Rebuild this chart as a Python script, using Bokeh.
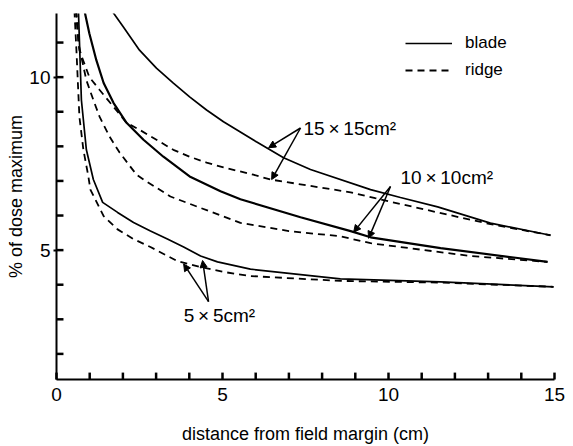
from bokeh.plotting import figure
from bokeh.models import (Range1d, FixedTicker, Legend, LegendItem,
                          Arrow, NormalHead, Label)
from bokeh.embed import file_html
from bokeh.resources import INLINE

# ---- data (distance from field margin in cm, % of dose maximum) ----
b15_x = [1.66, 2.02, 2.50, 3.01, 3.52, 4.01, 4.52, 5.03, 6.02, 6.84, 7.65, 9.46, 10.36, 11.48, 13.07, 14.88]
b15_y = [11.93, 11.44, 10.78, 10.26, 9.83, 9.43, 9.05, 8.71, 8.13, 7.67, 7.33, 6.75, 6.52, 6.25, 5.78, 5.43]

r15_x = [0.58, 0.69, 0.99, 1.30, 1.72, 2.11, 2.50, 3.01, 3.52, 4.01, 4.52, 5.03, 5.93, 6.45, 8.86, 9.60, 11.48, 13.07, 14.88]
r15_y = [11.93, 10.78, 10.00, 9.63, 9.14, 8.68, 8.48, 8.19, 7.90, 7.70, 7.53, 7.39, 7.18, 7.04, 6.67, 6.50, 6.09, 5.75, 5.43]

b10_x = [0.84, 0.99, 1.20, 1.42, 1.72, 2.11, 2.62, 3.22, 4.01, 4.94, 5.54, 7.35, 8.86, 9.46, 11.57, 14.79]
b10_y = [11.93, 11.26, 10.49, 9.83, 9.25, 8.68, 8.19, 7.70, 7.13, 6.70, 6.47, 5.95, 5.55, 5.37, 5.06, 4.66]

r10_x = [0.60, 0.66, 0.90, 1.11, 1.30, 1.60, 1.90, 2.41, 2.62, 3.43, 4.34, 5.54, 7.00, 8.55, 9.46, 12.47, 14.79]
r10_y = [11.93, 10.98, 9.91, 9.34, 8.85, 8.28, 7.82, 7.18, 7.04, 6.55, 6.22, 5.79, 5.55, 5.40, 5.20, 4.83, 4.66]

b5_x = [0.66, 0.75, 0.90, 1.11, 1.39, 1.84, 2.32, 2.83, 3.34, 3.83, 4.34, 4.85, 5.84, 8.55, 11.57, 14.97]
b5_y = [11.93, 9.34, 7.90, 7.04, 6.38, 6.09, 5.80, 5.55, 5.32, 5.09, 4.83, 4.66, 4.45, 4.17, 4.08, 3.94]

r5_x = [0.54, 0.60, 0.69, 0.81, 0.96, 1.02, 1.42, 1.84, 2.32, 2.83, 3.64, 4.34, 5.03, 5.84, 8.55, 11.57, 14.97]
r5_y = [11.93, 10.78, 8.85, 7.90, 7.13, 6.75, 5.98, 5.60, 5.32, 5.09, 4.68, 4.51, 4.37, 4.25, 4.11, 4.06, 3.94]

x_ticks = [0, 5, 10, 15]
x_minor_ticks = [1, 2, 3, 4, 6, 7, 8, 9, 11, 12, 13, 14]
y_ticks = [5, 10]
y_minor_ticks = [2, 3, 4, 6, 7, 8, 9, 11]

X_MIN, X_MAX = 0, 15.0
Y_MIN, Y_MAX = 1.26, 11.84
TICK_LEN_X = 0.2    # data units along y (~7 px)
TICK_LEN_Y = 0.21   # data units along x (~7 px)

# annotation positions (data units)
labels = ["15\u2009\u00d7\u200915cm\u00b2", "10\u2009\u00d7\u200910cm\u00b2", "5\u2009\u00d7\u20095cm\u00b2"]
label_x = [7.44, 10.36, 3.83]
label_y = [8.53, 7.10, 3.10]
apex_x = [7.35, 10.06, 4.58]
apex_y = [8.53, 6.84, 3.51]
tip_blade_x = [6.39, 8.95, 4.40]
tip_blade_y = [7.96, 5.52, 4.70]
tip_ridge_x = [6.48, 9.40, 3.83]
tip_ridge_y = [7.04, 5.34, 4.60]

FONT = "Liberation Sans"

p = figure(width=573, height=446, output_backend="svg", toolbar_location=None,
           x_range=Range1d(X_MIN, X_MAX), y_range=Range1d(Y_MIN, Y_MAX),
           min_border_left=56, min_border_right=19, min_border_top=13,
           min_border_bottom=65)
p.outline_line_color = None
p.xgrid.visible = False
p.ygrid.visible = False
p.background_fill_color = "white"
p.border_fill_color = "white"

p.xaxis[0].ticker = FixedTicker(ticks=x_ticks, minor_ticks=x_minor_ticks)
p.yaxis[0].ticker = FixedTicker(ticks=y_ticks, minor_ticks=y_minor_ticks)

for ax in (p.xaxis[0], p.yaxis[0]):
    ax.axis_line_width = 2
    ax.axis_line_color = "black"
    ax.major_tick_in = 0
    ax.major_tick_out = 0
    ax.minor_tick_in = 0
    ax.minor_tick_out = 0
    ax.major_tick_line_width = 2
    ax.minor_tick_line_width = 2
    ax.major_tick_line_color = "black"
    ax.minor_tick_line_color = "black"
    ax.major_label_text_font = FONT
    ax.major_label_text_font_size = "19px"
    ax.major_label_text_color = "black"
    ax.axis_label_text_font = FONT
    ax.axis_label_text_font_size = "18px"
    ax.axis_label_text_font_style = "normal"
    ax.axis_label_text_color = "black"

# y axis: short outward major ticks as in the reference ("10-", "5-")
p.yaxis[0].major_tick_out = 3

p.xaxis[0].axis_label = "distance from field margin (cm)"
p.xaxis[0].major_label_standoff = 8
p.xaxis[0].axis_label_standoff = 20
p.yaxis[0].axis_label = "% of dose maximum"
p.yaxis[0].major_label_standoff = 3
p.yaxis[0].axis_label_standoff = 0

# inward tick marks as short segments, slightly thicker
xt = x_ticks + x_minor_ticks
p.segment(x0=xt, y0=[Y_MIN] * len(xt), x1=xt, y1=[Y_MIN + TICK_LEN_X] * len(xt),
          line_color="black", line_width=2.5, level="overlay")
yt = y_ticks + y_minor_ticks
p.segment(x0=[X_MIN] * len(yt), y0=yt, x1=[X_MIN + TICK_LEN_Y] * len(yt), y1=yt,
          line_color="black", line_width=2.5, level="overlay")

solid_w = 1.7
dash_w = 1.8
dash = "7 5"

lb15 = p.line(b15_x, b15_y, line_color="black", line_width=solid_w)
lr15 = p.line(r15_x, r15_y, line_color="black", line_width=dash_w, line_dash=dash)
lb10 = p.line(b10_x, b10_y, line_color="black", line_width=2.2)
lr10 = p.line(r10_x, r10_y, line_color="black", line_width=dash_w, line_dash=dash)
lb5 = p.line(b5_x, b5_y, line_color="black", line_width=solid_w)
lr5 = p.line(r5_x, r5_y, line_color="black", line_width=dash_w, line_dash=dash)

# annotations
for i in range(3):
    p.add_layout(Label(x=label_x[i], y=label_y[i], text=labels[i],
                       text_font=FONT, text_font_size="19px",
                       text_baseline="middle", text_align="left",
                       text_color="black"))
    for tx, ty in ((tip_blade_x[i], tip_blade_y[i]), (tip_ridge_x[i], tip_ridge_y[i])):
        p.add_layout(Arrow(x_start=apex_x[i], y_start=apex_y[i], x_end=tx, y_end=ty,
                           line_color="black", line_width=1.5,
                           end=NormalHead(size=7, fill_color="black",
                                          line_color="black", line_width=1)))

legend = Legend(items=[LegendItem(label="blade", renderers=[lb15]),
                       LegendItem(label="ridge", renderers=[lr15])],
                location=(349, 299), glyph_width=47, glyph_height=20,
                label_standoff=13, spacing=7, padding=0, margin=0,
                border_line_alpha=0, background_fill_alpha=0,
                label_text_font=FONT, label_text_font_size="17px",
                label_text_color="black")
p.add_layout(legend)

open("out.html", "w").write(file_html(p, INLINE))
